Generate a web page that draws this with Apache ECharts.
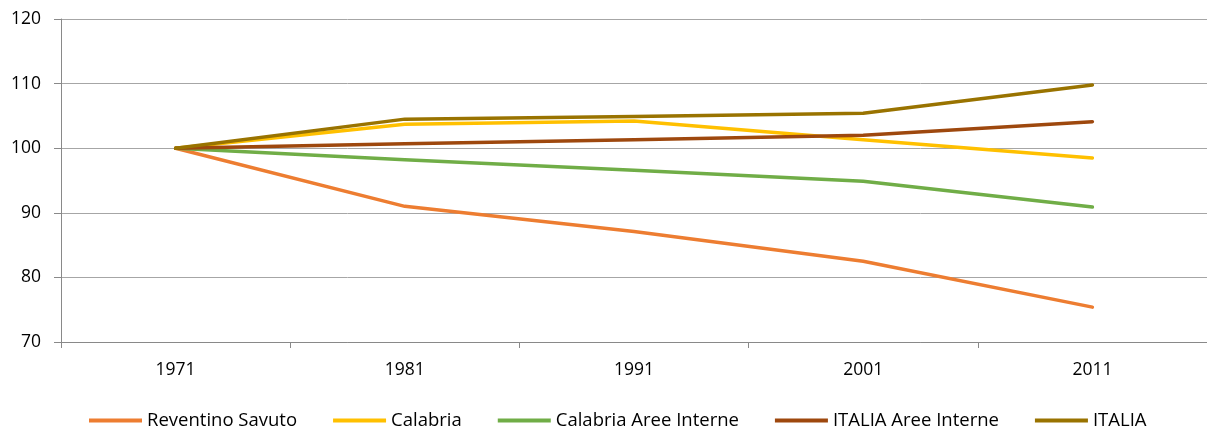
<!DOCTYPE html>
<html>
<head>
<meta charset="utf-8">
<script src="https://cdn.jsdelivr.net/npm/echarts@6/dist/echarts.min.js"></script>
<style>
html,body{margin:0;padding:0;background:#fff;}
#chart{width:1207px;height:430px;}
</style>
</head>
<body>
<div id="chart"></div>
<script>
const categories = ['1971', '1981', '1991', '2001', '2011'];
const reventinoSavuto = [100, 91.0, 87.1, 82.5, 75.4];
const calabria = [100, 103.7, 104.2, 101.3, 98.5];
const calabriaAreeInterne = [100, 98.2, 96.6, 94.9, 90.9];
const italiaAreeInterne = [100, 100.7, 101.3, 102.0, 104.1];
const italia = [100, 104.5, 104.9, 105.4, 109.8];
const yTicks = [70, 80, 90, 100, 110, 120];

const seriesDefs = [
  { name: 'Reventino Savuto', data: reventinoSavuto, color: '#ED7D31' },
  { name: 'Calabria', data: calabria, color: '#FFC000' },
  { name: 'Calabria Aree Interne', data: calabriaAreeInterne, color: '#70AD47' },
  { name: 'ITALIA Aree Interne', data: italiaAreeInterne, color: '#9E480E' },
  { name: 'ITALIA', data: italia, color: '#997300' }
];

const chart = echarts.init(document.getElementById('chart'), null, { renderer: 'canvas' });
const font = '"Open Sans", "Liberation Sans", sans-serif';
chart.setOption({
  animation: false,
  backgroundColor: '#ffffff',
  grid: { left: 61, top: 19, width: 1148, height: 323, containLabel: false },
  xAxis: {
    type: 'category',
    data: categories,
    boundaryGap: true,
    axisLine: { show: true, lineStyle: { color: '#898989', width: 1 } },
    axisTick: { show: true, alignWithLabel: false, length: 6, lineStyle: { color: '#898989' } },
    axisLabel: { color: '#000000', fontFamily: font, fontSize: 17.5, margin: 19 },
    splitLine: { show: false }
  },
  yAxis: {
    type: 'value',
    min: yTicks[0],
    max: yTicks[yTicks.length - 1],
    interval: 10,
    axisLine: { show: true, lineStyle: { color: '#898989', width: 1 } },
    axisTick: { show: true, inside: false, length: 7, lineStyle: { color: '#898989' } },
    axisLabel: { color: '#000000', fontFamily: font, fontSize: 17.5, margin: 20 },
    splitLine: { show: true, lineStyle: { color: '#A6A6A6', width: 1 } }
  },
  legend: {
    left: 89,
    top: 411,
    padding: 0,
    itemWidth: 53,
    itemHeight: 4,
    itemGap: 36,
    icon: 'rect',
    textStyle: { color: '#000000', fontFamily: font, fontSize: 18.5 },
    data: seriesDefs.map(s => s.name)
  },
  series: seriesDefs.map(s => ({
    name: s.name,
    type: 'line',
    data: s.data,
    symbol: 'none',
    smooth: false,
    color: s.color,
    lineStyle: { color: s.color, width: 3.5, cap: 'round', join: 'round' },
    itemStyle: { color: s.color }
  }))
});
</script>
</body>
</html>
